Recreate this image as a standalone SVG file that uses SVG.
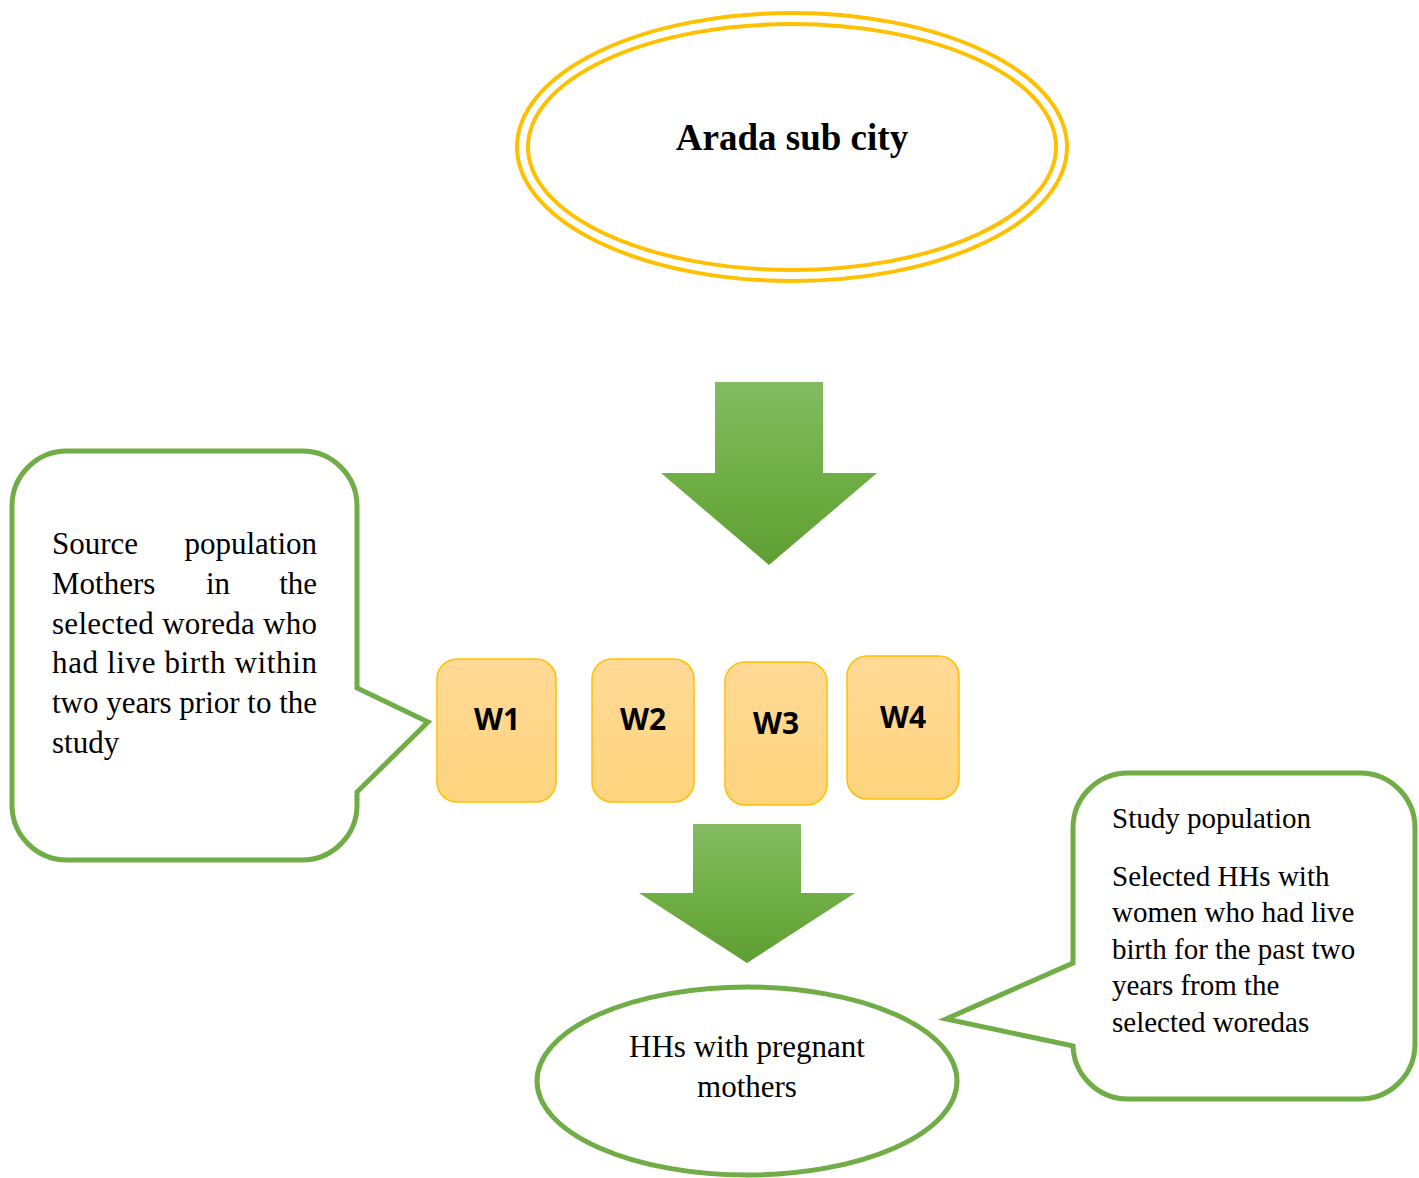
<svg xmlns="http://www.w3.org/2000/svg" width="1419" height="1178" viewBox="0 0 1419 1178">
<defs>
<linearGradient id="gArrow" x1="0" y1="0" x2="0" y2="1">
<stop offset="0" stop-color="#84BB62"/>
<stop offset="0.5" stop-color="#70AF45"/>
<stop offset="1" stop-color="#5E9E32"/>
</linearGradient>
<linearGradient id="gBox" x1="0" y1="0" x2="0" y2="1">
<stop offset="0" stop-color="#FFDA96"/>
<stop offset="1" stop-color="#FFD47E"/>
</linearGradient>
<style>
.t{font-family:"Liberation Serif","Times New Roman",serif;fill:#000}
.w{font-family:"Open Sans","Liberation Sans",sans-serif;font-weight:bold;font-size:30px;text-anchor:middle;fill:#000}
.box{fill:url(#gBox);stroke:#FFC000;stroke-width:1.5}
.call{fill:#fff;stroke:#70AD47;stroke-width:5;stroke-linejoin:miter}
.arrow{fill:url(#gArrow)}
</style>
</defs>
<rect width="1419" height="1178" fill="#fff"/>

<g id="arada">
<ellipse cx="792" cy="147" rx="275" ry="134" fill="#fff" stroke="#FFC000" stroke-width="4"/>
<ellipse cx="792" cy="147" rx="264" ry="123" fill="none" stroke="#FFC000" stroke-width="4"/>
<text class="t" x="792" y="150" font-size="37" font-weight="bold" text-anchor="middle">Arada sub city</text>
</g>

<g id="connectors">
<path class="arrow" d="M715,382 H823 V473 H877 L769,565 L661,473 H715 Z"/>
<path class="arrow" d="M693,824 H801 V893 H855 L747,963 L639,893 H693 Z"/>
</g>

<g id="source">
<path class="call" d="M67,451 H302 A55,55 0 0 1 357,506 V688 L428,722 L357,792 V805 A55,55 0 0 1 302,860 H67 A55,55 0 0 1 12,805 V506 A55,55 0 0 1 67,451 Z"/>
<g class="t" font-size="31">
<text x="52" y="554">Source</text>
<text x="317" y="554" text-anchor="end">population</text>
<text x="52" y="594">Mothers</text>
<text x="218" y="594" text-anchor="middle">in</text>
<text x="317" y="594" text-anchor="end">the</text>
<text x="52" y="634" textLength="265" lengthAdjust="spacing">selected woreda who</text>
<text x="52" y="673" textLength="265" lengthAdjust="spacing">had live birth within</text>
<text x="52" y="713" textLength="265" lengthAdjust="spacing">two years prior to the</text>
<text x="52" y="753">study</text>
</g>
</g>

<g id="w1"><rect class="box" x="437" y="659" width="119" height="143" rx="20"/><text class="w" x="497" y="730">W1</text></g>
<g id="w2"><rect class="box" x="592" y="659" width="102" height="143" rx="20"/><text class="w" x="643" y="730">W2</text></g>
<g id="w3"><rect class="box" x="725" y="662" width="102" height="143" rx="20"/><text class="w" x="776" y="734">W3</text></g>
<g id="w4"><rect class="box" x="847" y="656" width="112" height="143" rx="20"/><text class="w" x="903" y="728">W4</text></g>

<g id="study">
<path class="call" d="M1128,773 H1360 A55,55 0 0 1 1415,828 V1044 A55,55 0 0 1 1360,1099 H1128 A55,55 0 0 1 1073,1044 V1046 L946,1019 L1073,963 V828 A55,55 0 0 1 1128,773 Z"/>
<g class="t" font-size="29">
<text x="1112" y="828">Study population</text>
<text x="1112" y="886">Selected HHs with</text>
<text x="1112" y="922">women who had live</text>
<text x="1112" y="959">birth for the past two</text>
<text x="1112" y="995">years from the</text>
<text x="1112" y="1032">selected woredas</text>
</g>
</g>

<g id="hhs">
<ellipse cx="747" cy="1081" rx="210" ry="94" fill="#fff" stroke="#70AD47" stroke-width="5"/>
<text class="t" font-size="31" text-anchor="middle" x="747" y="1057">HHs with pregnant</text>
<text class="t" font-size="31" text-anchor="middle" x="747" y="1097">mothers</text>
</g>
</svg>
